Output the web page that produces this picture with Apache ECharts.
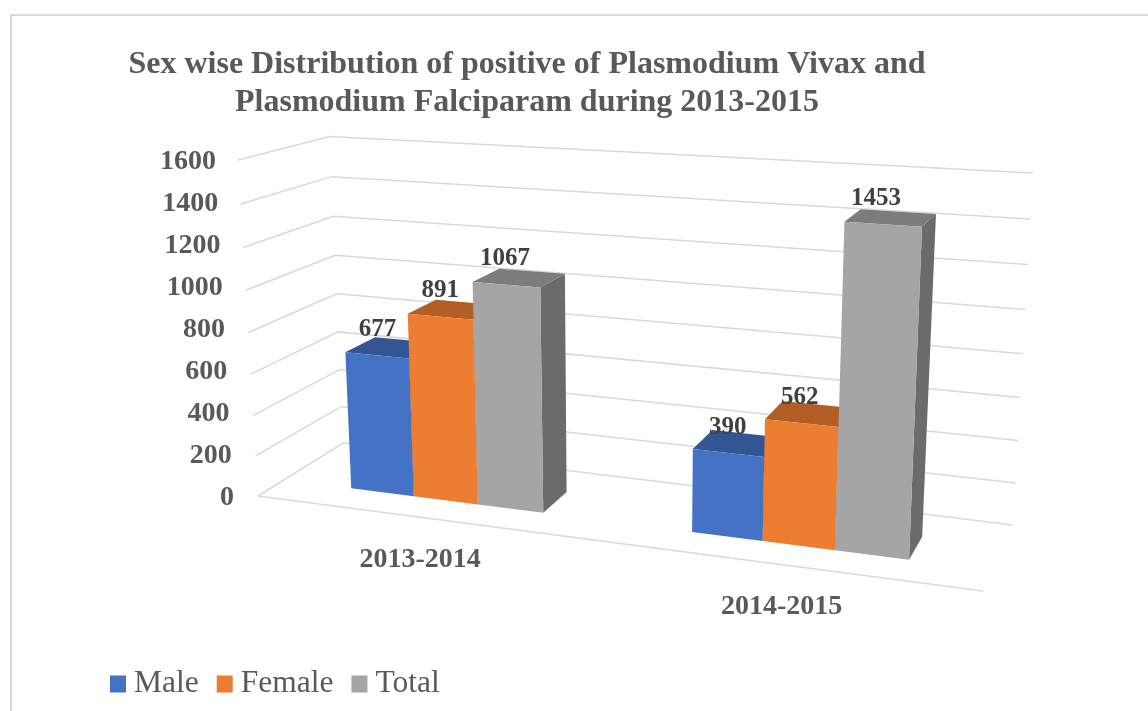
<!DOCTYPE html>
<html>
<head>
<meta charset="utf-8">
<style>
  html, body { margin: 0; padding: 0; background: #fff; }
  #chart { width: 1148px; height: 711px; }
</style>
<script src="https://cdn.jsdelivr.net/npm/echarts@6/dist/echarts.min.js"></script>
</head>
<body>
<div id="chart"></div>
<script>
const categories = ['2013-2014', '2014-2015']
const male = [677, 390]
const female = [891, 562]
const total = [1067, 1453]
const yTicks = [0, 200, 400, 600, 800, 1000, 1200, 1400, 1600]

const FONT = '"Liberation Serif", "Times New Roman", serif'
const TEXT = '#595959'

// corners of the 3D box on screen: floor / top, front / back, left / right
const box = {
  floor: { fl: [258, 496], fr: [983, 591], bl: [343, 443], br: [1013, 525] },
  top: { fl: [238, 160], fr: [1001, 207], bl: [330, 136.5], br: [1033, 173] }
}
const warpU = 1.13   // bars get wider to the right
const warpV = 1.055  // grid spacing gets wider to the top
const depthFront = 0.31
const depthBack = 0.67
const groupWidth = 0.578

function mix(a, b, t) {
  return [a[0] + (b[0] - a[0]) * t, a[1] + (b[1] - a[1]) * t]
}
function plane(p, u, w) {
  return mix(mix(p.fl, p.fr, u), mix(p.bl, p.br, u), w)
}
// u, v, w are 0..1 fractions of the grid (across, up, into the picture)
function project(u, v, w) {
  const uu = u / (u + warpU * (1 - u))
  const vv = v / (v + warpV * (1 - v))
  return mix(plane(box.floor, uu, w), plane(box.top, uu, w), vv)
}
function uOf(cs, px) { return (px - cs.x) / cs.width }
function vOf(cs, py) { return (cs.y + cs.height - py) / cs.height }

function barSeries(name, values, slot, face, top, side) {
  return {
    name: name,
    type: 'custom',
    z: 3,
    itemStyle: { color: face },
    data: values.map((v, i) => [i, v]),
    renderItem(params, api) {
      const cs = params.coordSys
      const p = api.coord([api.value(0), api.value(1)])
      const band = api.size([1, 0])[0]
      const w = band * groupWidth / 3
      const left = p[0] + (slot - 0.5) * w
      const u0 = uOf(cs, left)
      const u1 = uOf(cs, left + w)
      const v = vOf(cs, p[1])
      const poly = (points, fill) => ({
        type: 'polygon',
        shape: { points: points },
        style: { fill: fill }
      })
      const labelPos = project((u0 + u1) / 2, v, depthFront)
      return {
        type: 'group',
        children: [
          poly([project(u1, 0, depthFront), project(u1, 0, depthBack), project(u1, v, depthBack), project(u1, v, depthFront)], side),
          poly([project(u0, v, depthFront), project(u1, v, depthFront), project(u1, v, depthBack), project(u0, v, depthBack)], top),
          poly([project(u0, 0, depthFront), project(u1, 0, depthFront), project(u1, v, depthFront), project(u0, v, depthFront)], face),
          {
            type: 'text',
            z2: 50,
            // labels drift left of the bar as the bar gets taller and further right
            x: labelPos[0] + 1 - 11 * u0 * v,
            y: labelPos[1] - 26,
            style: {
              text: String(api.value(1)),
              font: 'bold 25px ' + FONT,
              fill: '#404040',
              align: 'center',
              verticalAlign: 'middle'
            }
          }
        ]
      }
    }
  }
}

// grid lines run along the left wall and then the back wall
const wallSeries = {
  type: 'custom',
  z: 1,
  silent: true,
  data: yTicks.map(t => [0, t]),
  renderItem(params, api) {
    const cs = params.coordSys
    const v = vOf(cs, api.coord([0, api.value(1)])[1])
    const lineStyle = { stroke: '#d9d9d9', lineWidth: 1.5, fill: null }
    const children = [{
      type: 'polyline',
      shape: { points: [project(0, v, 0), project(0, v, 1), project(1, v, 1)] },
      style: lineStyle
    }]
    if (api.value(1) === 0) {
      children.push({
        type: 'polyline',
        shape: { points: [project(0, 0, 0), project(1, 0, 0)] },
        style: lineStyle
      })
    }
    return { type: 'group', children: children }
  }
}

const categorySeries = {
  type: 'custom',
  z: 3,
  silent: true,
  data: categories.map((c, i) => [i, 0]),
  renderItem(params, api) {
    const cs = params.coordSys
    const i = api.value(0)
    const pos = project(uOf(cs, api.coord([i, 0])[0]), 0, 0)
    return {
      type: 'text',
      x: pos[0] - 3,
      y: pos[1] + 42,
      style: {
        text: categories[i],
        font: 'bold 28px ' + FONT,
        fill: TEXT,
        align: 'center',
        verticalAlign: 'middle'
      }
    }
  }
}

// the tick labels follow the slanted left edge of the box
const tickRich = {}
yTicks.forEach(t => {
  tickRich['t' + t] = {
    fontFamily: FONT,
    fontWeight: 'bold',
    fontSize: 28,
    color: TEXT,
    padding: [3, 18 * t / 1600, 0, 0]
  }
})

const chart = echarts.init(document.getElementById('chart'))
chart.setOption({
  backgroundColor: '#fff',
  animation: false,
  title: {
    text: 'Sex wise Distribution of positive of Plasmodium Vivax and\nPlasmodium Falciparam during 2013-2015',
    left: 522,
    top: 41,
    textAlign: 'center',
    textStyle: {
      fontFamily: FONT,
      fontWeight: 'bold',
      fontSize: 32,
      lineHeight: 38,
      color: TEXT
    }
  },
  legend: {
    data: ['Male', 'Female', 'Total'],
    left: 105,
    top: 663,
    icon: 'rect',
    itemWidth: 16,
    itemHeight: 17,
    itemGap: 18,
    textStyle: {
      fontFamily: FONT,
      fontSize: 31.5,
      color: TEXT,
      padding: [0, 0, 0, 3]
    }
  },
  grid: { left: 258, top: 160, width: 725, height: 336 },
  xAxis: {
    type: 'category',
    data: categories,
    axisLine: { show: false },
    axisTick: { show: false },
    axisLabel: { show: false }
  },
  yAxis: {
    type: 'value',
    min: 0,
    max: 1600,
    interval: 200,
    axisLine: { show: false },
    axisTick: { show: false },
    splitLine: { show: false },
    axisLabel: {
      margin: 24,
      formatter: v => '{t' + v + '|' + v + '}',
      rich: tickRich
    }
  },
  graphic: [
    {
      type: 'polyline',
      silent: true,
      shape: { points: [[11, 711], [11, 15], [1148, 15]] },
      style: { stroke: '#d9d9d9', lineWidth: 2, fill: null }
    }
  ],
  series: [
    wallSeries,
    barSeries('Male', male, -1, '#4472C4', '#335593', '#2c4a80'),
    barSeries('Female', female, 0, '#ED7D31', '#B25E25', '#a05520'),
    barSeries('Total', total, 1, '#A5A5A5', '#7C7C7C', '#6B6B6B'),
    categorySeries
  ]
})
window.addEventListener('resize', () => chart.resize())
</script>
</body>
</html>
